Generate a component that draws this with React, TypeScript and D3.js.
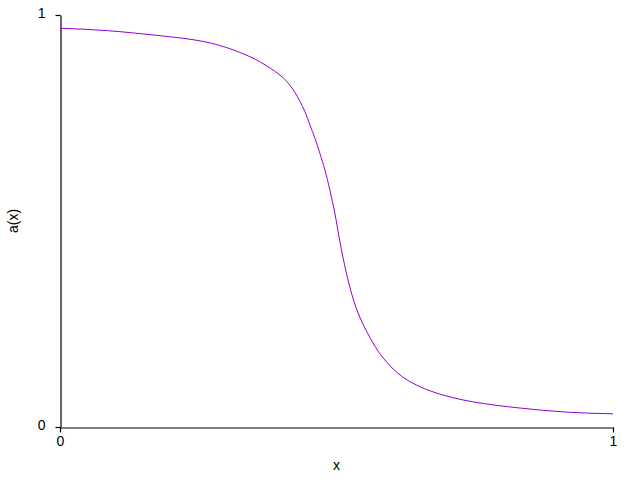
import { useEffect, useRef } from 'react';
import * as d3 from 'd3';

// values
const xValues = [0, 0.086, 0.172, 0.262, 0.3255, 0.362, 0.398, 0.416, 0.425, 0.434, 0.443, 0.452, 0.461, 0.47, 0.479, 0.488, 0.497, 0.5045, 0.512, 0.524, 0.542, 0.566, 0.586, 0.62, 0.675, 0.747, 0.832, 0.917, 1];
const aValues = [0.968, 0.962, 0.951, 0.935, 0.909, 0.886, 0.854, 0.829, 0.812, 0.79, 0.765, 0.733, 0.701, 0.664, 0.624, 0.575, 0.519, 0.462, 0.41, 0.34, 0.267, 0.204, 0.165, 0.121, 0.085, 0.061, 0.046, 0.036, 0.032];
const xTicks = [0, 1];
const yTicks = [0, 1];

export default function App() {
  const svgRef = useRef<SVGSVGElement>(null);

  useEffect(() => {
    if (!svgRef.current) return;
    const width = 640;
    const height = 480;
    const margin = { top: 15, right: 27, bottom: 53, left: 60 };

    const svg = d3.select(svgRef.current);
    svg.selectAll('*').remove();

    const x = d3.scaleLinear().domain([0, 1]).range([margin.left, width - margin.right]);
    const y = d3.scaleLinear().domain([0, 1]).range([height - margin.bottom, margin.top]);

    const font = '"Liberation Sans", Arial, sans-serif';

    const xAxis = svg.append('g')
      .attr('transform', `translate(0,${height - margin.bottom + 0.5})`)
      .call(d3.axisBottom(x).tickValues(xTicks).tickFormat(d3.format('d')).tickSize(5).tickSizeOuter(0).tickPadding(4));
    const yAxis = svg.append('g')
      .attr('transform', `translate(${margin.left + 0.5},0)`)
      .call(d3.axisLeft(y).tickValues(yTicks).tickFormat(d3.format('d')).tickSize(5).tickSizeOuter(0).tickPadding(10));

    [xAxis, yAxis].forEach(a => {
      a.selectAll('path, line').attr('stroke', '#000').attr('stroke-width', 1.2);
      a.selectAll('text').attr('font-family', font).attr('font-size', 14).attr('fill', '#000');
    });
    yAxis.selectAll('text').attr('dy', '0.2em');

    const points = xValues.map((v, i) => [v, aValues[i]] as [number, number]);
    const line = d3.line<[number, number]>()
      .x(d => x(d[0]))
      .y(d => y(d[1]))
      .curve(d3.curveNatural);

    svg.append('path')
      .datum(points)
      .attr('d', line)
      .attr('fill', 'none')
      .attr('stroke', '#9400d3')
      .attr('stroke-width', 1);

    svg.append('text')
      .attr('x', (x(0) + x(1)) / 2)
      .attr('y', 470)
      .attr('text-anchor', 'middle')
      .attr('font-family', font)
      .attr('font-size', 14)
      .text('x');

    svg.append('text')
      .attr('transform', `translate(18,${(y(0) + y(1)) / 2}) rotate(-90)`)
      .attr('text-anchor', 'middle')
      .attr('font-family', font)
      .attr('font-size', 14)
      .text('a(x)');
  }, []);

  return (
    <svg
      ref={svgRef}
      width={640}
      height={480}
      style={{ position: 'absolute', left: 0, top: 0, background: '#fff' }}
    />
  );
}
